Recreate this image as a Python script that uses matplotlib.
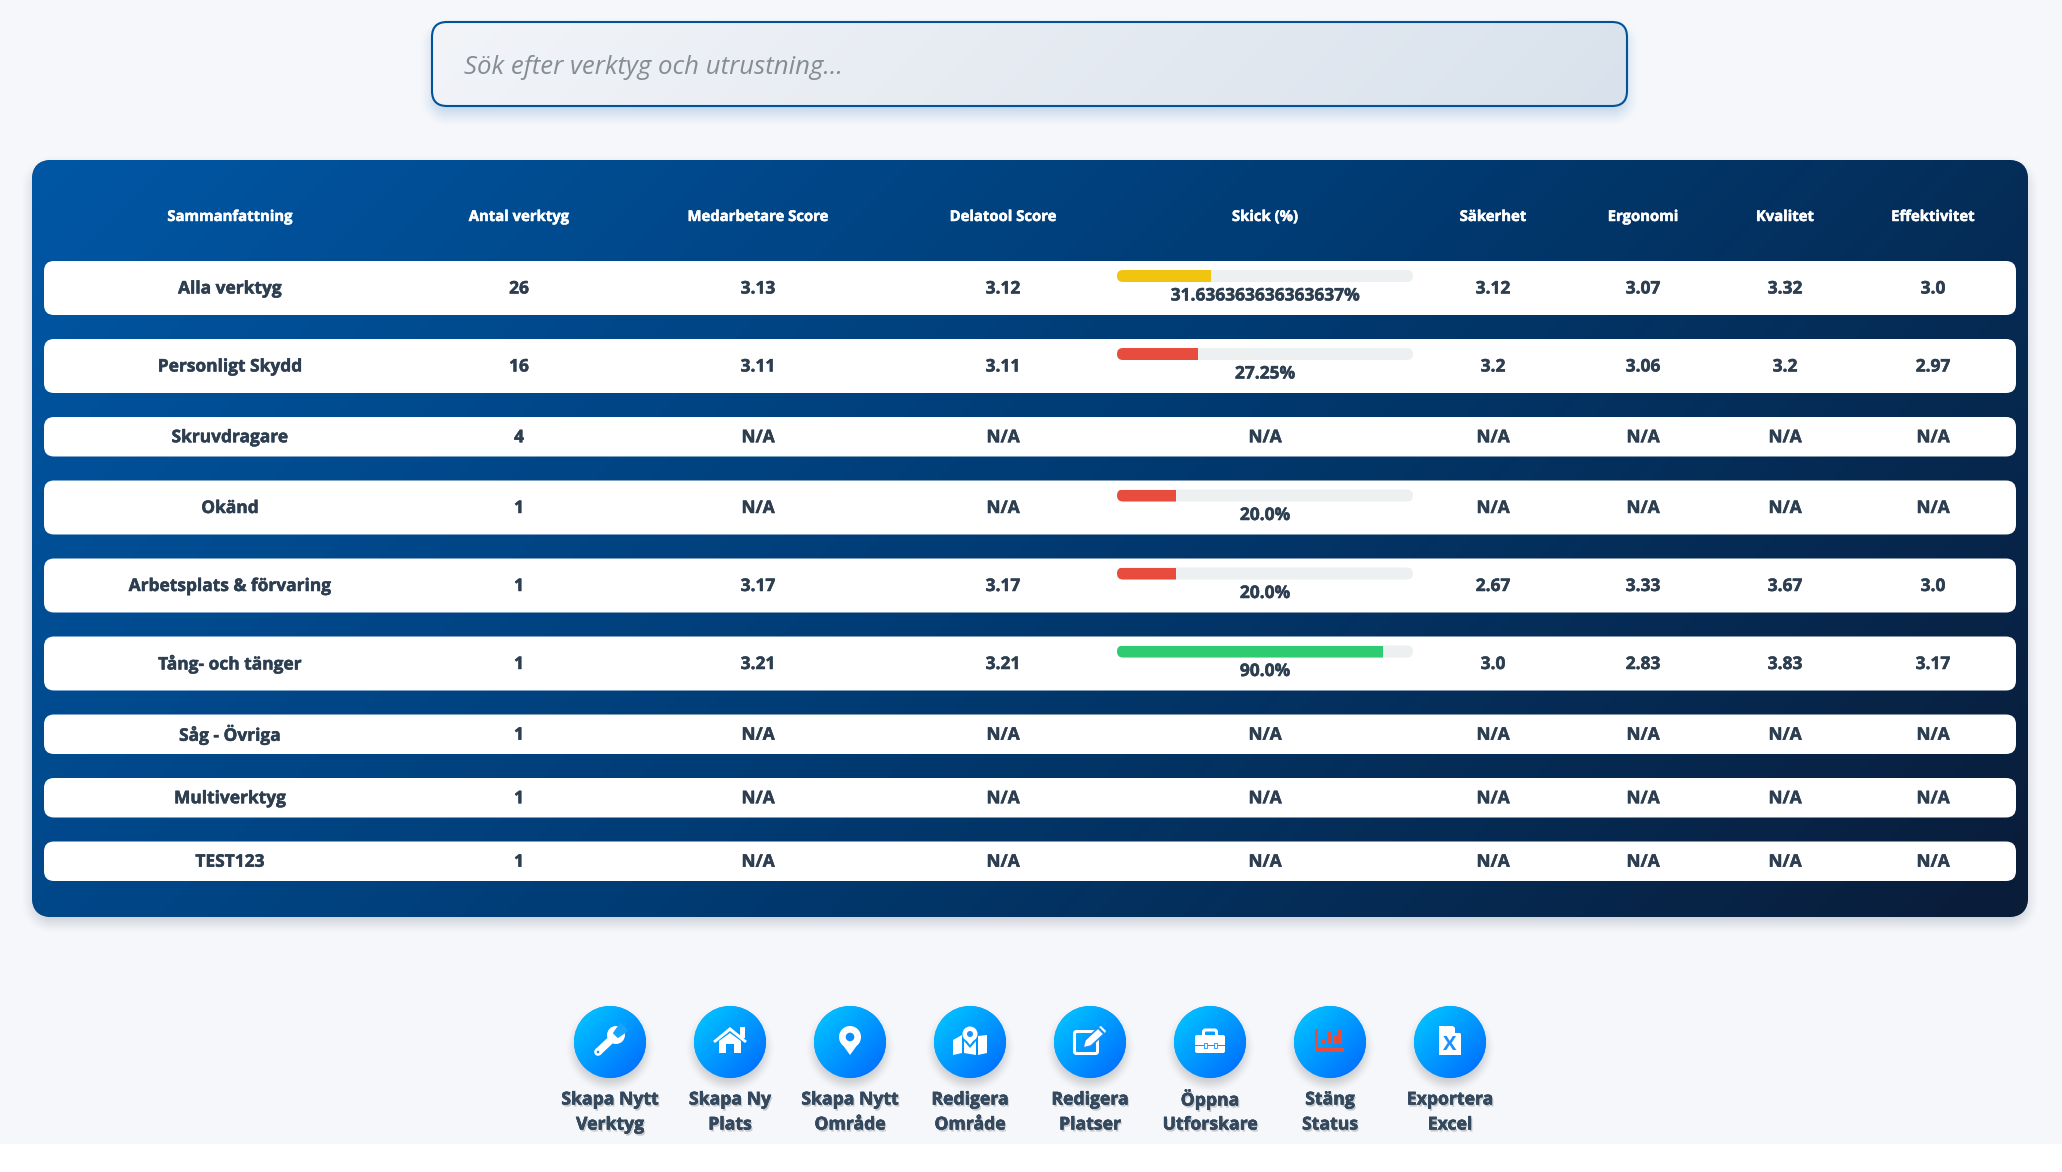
#!/usr/bin/env python3
"""Tool overview dashboard: search box, summary table and action buttons."""

import matplotlib
matplotlib.use("Agg")
import matplotlib.patheffects as pe
import matplotlib.pyplot as plt
import numpy as np
from matplotlib.colors import LinearSegmentedColormap
from matplotlib.patches import Circle, FancyBboxPatch, Polygon, Rectangle

WIDTH, HEIGHT = 2062, 1172
FONT = "Open Sans"

COLUMNS = ["Sammanfattning", "Antal verktyg", "Medarbetare Score", "Delatool Score", "Skick (%)",
           "Säkerhet", "Ergonomi", "Kvalitet", "Effektivitet"]
CATEGORIES = ["Alla verktyg", "Personligt Skydd", "Skruvdragare", "Okänd", "Arbetsplats & förvaring",
              "Tång- och tänger", "Såg - Övriga", "Multiverktyg", "TEST123"]
TOOL_COUNT = [26, 16, 4, 1, 1, 1, 1, 1, 1]
MEDARBETARE = ["3.13", "3.11", "N/A", "N/A", "3.17", "3.21", "N/A", "N/A", "N/A"]
DELATOOL = ["3.12", "3.11", "N/A", "N/A", "3.17", "3.21", "N/A", "N/A", "N/A"]
SKICK = [31.636363636363637, 27.25, None, 20.0, 20.0, 90.0, None, None, None]
SAKERHET = ["3.12", "3.2", "N/A", "N/A", "2.67", "3.0", "N/A", "N/A", "N/A"]
ERGONOMI = ["3.07", "3.06", "N/A", "N/A", "3.33", "2.83", "N/A", "N/A", "N/A"]
KVALITET = ["3.32", "3.2", "N/A", "N/A", "3.67", "3.83", "N/A", "N/A", "N/A"]
EFFEKTIVITET = ["3.0", "2.97", "N/A", "N/A", "3.0", "3.17", "N/A", "N/A", "N/A"]
BUTTONS = [("Skapa Nytt", "Verktyg"), ("Skapa Ny", "Plats"), ("Skapa Nytt", "Område"), ("Redigera", "Område"),
           ("Redigera", "Platser"), ("Öppna", "Utforskare"), ("Stäng", "Status"), ("Exportera", "Excel")]

COL_X = [230, 519, 758, 1003, 1265, 1493, 1643, 1785, 1933]
TEXT_DARK = "#2c3e50"
ICON_BG = "#1a90ff"


def rounded_box(x0, y0, x1, y1, radius, **kwargs):
    return FancyBboxPatch((x0 + radius, y0 + radius), x1 - x0 - 2 * radius, y1 - y0 - 2 * radius,
                          boxstyle=f"round,pad={radius},rounding_size={radius}", **kwargs)


def css_gradient(ax, box, colors, clip):
    """Paint a 135 degree gradient over box and clip it to a patch."""
    x0, y0, x1, y1 = box
    xx, yy = np.meshgrid(np.arange(x0, x1) + 0.5, np.arange(y0, y1) + 0.5)
    t = ((xx - (x0 + x1) / 2) + (yy - (y0 + y1) / 2)) / ((x1 - x0) + (y1 - y0)) + 0.5
    cmap = LinearSegmentedColormap.from_list("grad", colors)
    img = ax.imshow(t, extent=(x0, x1, y1, y0), cmap=cmap, vmin=0, vmax=1, aspect="auto",
                    interpolation="bilinear", zorder=clip.get_zorder())
    img.set_clip_path(clip)


def soft_shadow(ax, box, radius, blur, offset, color, alpha, zorder=1):
    """Blurred shadow of a rounded rectangle, from its signed distance."""
    x0, y0, x1, y1 = box
    y0, y1 = y0 + offset, y1 + offset
    pad = int(blur * 2)
    xs = np.arange(x0 - pad, x1 + pad) + 0.5
    ys = np.arange(y0 - pad, y1 + pad) + 0.5
    xx, yy = np.meshgrid(xs, ys)
    qx = np.abs(xx - (x0 + x1) / 2) - (x1 - x0) / 2 + radius
    qy = np.abs(yy - (y0 + y1) / 2) - (y1 - y0) / 2 + radius
    dist = np.hypot(np.maximum(qx, 0), np.maximum(qy, 0)) + np.minimum(np.maximum(qx, qy), 0) - radius
    t = np.clip(0.5 - dist / (2 * blur), 0, 1)
    rgba = np.zeros(dist.shape + (4,))
    rgba[..., :3] = matplotlib.colors.to_rgb(color)
    rgba[..., 3] = alpha * t * t * (3 - 2 * t)
    ax.imshow(rgba, extent=(xs[0] - 0.5, xs[-1] + 0.5, ys[-1] + 0.5, ys[0] - 0.5), aspect="auto", zorder=zorder)


def draw_wrench(ax, cx, cy):
    direction = np.array([1.0, -1.0]) / np.sqrt(2)
    normal = np.array([1.0, 1.0]) / np.sqrt(2)
    tip = np.array([cx - 12, cy + 10])
    head = np.array([cx + 6, cy - 7])
    handle = [tip + normal * 3.8, head + normal * 3.8, head - normal * 3.8, tip - normal * 3.8]
    ax.add_patch(Polygon(handle, fc="white", ec="none", zorder=6))
    ax.add_patch(Circle(tip, 3.8, fc="white", ec="none", zorder=6))
    ax.add_patch(Circle(tip, 1.3, fc=ICON_BG, ec="none", zorder=7))
    ax.add_patch(Circle(head, 9, fc="white", ec="none", zorder=6))
    jaw = [head + normal * 3.5 - direction * 1, head + direction * 12 + normal * 6,
           head + direction * 12 - normal * 6, head - normal * 3.5 - direction * 1]
    ax.add_patch(Polygon(jaw, fc="#16a4ff", ec="none", zorder=7))


def draw_house(ax, cx, cy):
    ax.add_patch(Rectangle((cx + 10, cy - 15), 4.5, 11, fc="white", ec="none", zorder=6))
    ax.add_patch(Polygon([(cx - 17, cy - 1), (cx, cy - 15), (cx + 17, cy - 1), (cx + 15, cy + 1),
                          (cx, cy - 11), (cx - 15, cy + 1)], fc="white", ec="none", zorder=6))
    ax.add_patch(Polygon([(cx - 11, cy - 1), (cx, cy - 9), (cx + 11, cy - 1), (cx + 11, cy + 11),
                          (cx + 4, cy + 11), (cx + 4, cy + 2), (cx - 4, cy + 2), (cx - 4, cy + 11),
                          (cx - 11, cy + 11)], fc="white", ec="none", zorder=6))


def draw_pin(ax, cx, cy):
    r = 11
    top = cy - 5
    ax.add_patch(Polygon([(cx - r * 0.92, top + 4), (cx, cy + 13), (cx + r * 0.92, top + 4)],
                         fc="white", ec="none", zorder=6))
    ax.add_patch(Circle((cx, top), r, fc="white", ec="none", zorder=6))
    ax.add_patch(Circle((cx, top), 4.3, fc="#0b8dff", ec="none", zorder=7))


def draw_map(ax, cx, cy):
    ax.add_patch(Polygon([(cx - 17, cy - 2), (cx - 8, cy - 7), (cx - 8, cy + 11), (cx - 17, cy + 13)],
                         fc="white", ec="none", zorder=6))
    ax.add_patch(Polygon([(cx - 6, cy - 1), (cx, cy + 6), (cx + 6, cy - 1), (cx + 6, cy + 13), (cx - 6, cy + 11)],
                         fc="white", ec="none", zorder=6))
    ax.add_patch(Polygon([(cx + 8, cy - 6), (cx + 17, cy - 7), (cx + 17, cy + 11), (cx + 8, cy + 13)],
                         fc="white", ec="none", zorder=6))
    ax.add_patch(Polygon([(cx - 7, cy - 6), (cx, cy + 3), (cx + 7, cy - 6)], fc="white", ec="none", zorder=7))
    ax.add_patch(Circle((cx, cy - 8), 7.5, fc="white", ec="none", zorder=7))
    ax.add_patch(Circle((cx, cy - 8), 3, fc=ICON_BG, ec="none", zorder=8))


def draw_edit(ax, cx, cy):
    ax.add_patch(rounded_box(cx - 15.5, cy - 10.5, cx + 7.5, cy + 11.5, 2, fc="none", ec="white", lw=2.2, zorder=6))
    ax.add_patch(Polygon([(cx - 7, cy + 6), (cx - 5, cy - 2), (cx + 8, cy - 14), (cx + 14, cy - 8), (cx + 1, cy + 4)],
                         fc="white", ec=ICON_BG, lw=1.2, zorder=7))
    ax.add_patch(Polygon([(cx + 9, cy - 15), (cx + 11, cy - 16), (cx + 16, cy - 11), (cx + 15, cy - 9)],
                         fc="white", ec="none", zorder=7))


def draw_toolbox(ax, cx, cy):
    ax.add_patch(rounded_box(cx - 6.5, cy - 12, cx + 6.5, cy - 3, 2, fc="none", ec="white", lw=2.2, zorder=6))
    ax.add_patch(rounded_box(cx - 15, cy - 7, cx + 15, cy + 11, 2, fc="white", ec="none", zorder=7))
    ax.add_patch(Rectangle((cx - 15, cy + 2.5), 30, 1.2, fc=ICON_BG, ec="none", zorder=8))
    for dx in (-5, 5):
        ax.add_patch(Rectangle((cx + dx - 1.5, cy + 0.5), 3, 5, fc="white", ec=ICON_BG, lw=0.6, zorder=9))


def draw_chart(ax, cx, cy):
    red = "#e74c3c"
    ax.add_patch(Rectangle((cx - 15, cy - 13), 3, 22, fc=red, ec="none", zorder=6))
    ax.add_patch(Rectangle((cx - 15, cy + 6), 29, 3.5, fc=red, ec="none", zorder=6))
    for dx, top in zip((-8, -2, 3, 8), (-3, -10, -7, -13)):
        ax.add_patch(Rectangle((cx + dx, cy + top), 4, 2 - top, fc=red, ec="none", zorder=6))


def draw_excel(ax, cx, cy):
    ax.add_patch(Polygon([(cx - 11, cy - 16), (cx + 3, cy - 16), (cx + 11, cy - 8), (cx + 11, cy + 13), (cx - 11, cy + 13)],
                         fc="white", ec="none", zorder=6))
    ax.add_patch(Polygon([(cx + 4.5, cy - 16), (cx + 4.5, cy - 9.5), (cx + 11, cy - 9.5)], fc=ICON_BG, ec="none", zorder=7))
    ax.text(cx, cy + 3, "X", ha="center", va="center", fontsize=14.5, fontweight="bold", color=ICON_BG,
            family=FONT, zorder=8)


ICONS = [draw_wrench, draw_house, draw_pin, draw_map, draw_edit, draw_toolbox, draw_chart, draw_excel]


def bar_colour(value):
    if value >= 70:
        return "#2ecc71"
    if value >= 30:
        return "#f1c40f"
    return "#e74c3c"


def bold_text(ax, x, y, label, size, color, zorder=5, effects=None):
    thicken = pe.withStroke(linewidth=0.35, foreground=color)
    ax.text(x, y, label, ha="center", va="center", fontsize=size, fontweight="bold", color=color,
            family=FONT, zorder=zorder, path_effects=(effects or []) + [thicken])


def main():
    fig = plt.figure(figsize=(WIDTH / 100, HEIGHT / 100), dpi=100, facecolor="white")
    ax = fig.add_axes([0, 0, 1, 1])
    ax.set_xlim(0, WIDTH)
    ax.set_ylim(HEIGHT, 0)
    ax.axis("off")

    ax.add_patch(Rectangle((0, 0), WIDTH, 1144, fc="#f5f7fb", ec="none", zorder=0))

    # search box
    soft_shadow(ax, (432, 22, 1627, 106), 15, 14, 8, "#0056a3", 0.22)
    search = rounded_box(432, 22, 1627, 106, 15, fc="#e8edf4", ec="none", zorder=2)
    ax.add_patch(search)
    css_gradient(ax, (432, 22, 1627, 106), ["#f2f4f8", "#d9e2ec"], search)
    ax.add_patch(rounded_box(432, 22, 1627, 106, 15, fc="none", ec="#00529b", lw=1.5, zorder=3))
    ax.text(464, 67, "Sök efter verktyg och utrustning...", ha="left", va="center", fontsize=18.5,
            style="italic", color="#868c94", family=FONT, zorder=4)

    # panel
    soft_shadow(ax, (32, 160, 2028, 917), 20, 12, 6, "#303a50", 0.22)
    panel = rounded_box(32, 160, 2028, 917, 20, fc="#003a70", ec="none", zorder=2)
    ax.add_patch(panel)
    css_gradient(ax, (32, 160, 2028, 917), ["#0057a5", "#003b73", "#0a1c38"], panel)

    for x, name in zip(COL_X, COLUMNS):
        bold_text(ax, x, 217, name, 10.7, "white", zorder=4)

    # rows
    y = 261
    columns = [CATEGORIES, TOOL_COUNT, MEDARBETARE, DELATOOL, None, SAKERHET, ERGONOMI, KVALITET, EFFEKTIVITET]
    for i in range(len(CATEGORIES)):
        has_bar = SKICK[i] is not None
        height = 54 if has_bar else 39.5
        ax.add_patch(rounded_box(44, y, 2016, y + height, 10, fc="white", ec="none", zorder=3))
        mid = y + height / 2
        for j, col in enumerate(columns):
            if col is None:
                continue
            bold_text(ax, COL_X[j], mid + 0.5, str(col[i]), 12.5, TEXT_DARK)
        if has_bar:
            ax.add_patch(rounded_box(1117, y + 9, 1413, y + 21, 6, fc="#ecf0f1", ec="none", zorder=4))
            clip = rounded_box(1117, y + 9, 1413, y + 21, 6, fc="none", ec="none", zorder=4)
            ax.add_patch(clip)
            fill = Rectangle((1117, y + 9), 296 * SKICK[i] / 100, 12, fc=bar_colour(SKICK[i]), ec="none", zorder=5)
            ax.add_patch(fill)
            fill.set_clip_path(clip)
            bold_text(ax, COL_X[4], y + 34.5, f"{SKICK[i]}%", 12.5, TEXT_DARK)
        else:
            bold_text(ax, COL_X[4], mid + 0.5, "N/A", 12.5, TEXT_DARK)
        y += height + 24

    # action buttons
    shadow = [pe.withSimplePatchShadow(offset=(1, -1.5), alpha=0.18, shadow_rgbFace="#000000")]
    for k, ((line1, line2), icon) in enumerate(zip(BUTTONS, ICONS)):
        cx, cy = 610 + 120 * k, 1042
        soft_shadow(ax, (cx - 36, cy - 36, cx + 36, cy + 36), 36, 10, 6, "#000000", 0.2)
        disc = Circle((cx, cy), 36, fc="#0a8cff", ec="none", zorder=4)
        ax.add_patch(disc)
        css_gradient(ax, (cx - 36, cy - 36, cx + 36, cy + 36), ["#00ccff", "#0066ff"], disc)
        icon(ax, cx, cy)
        bold_text(ax, cx, 1099.5, line1, 12.7, "#34495e", effects=shadow)
        bold_text(ax, cx, 1124.5, line2, 12.7, "#34495e", effects=shadow)

    fig.savefig("out.png", dpi=100, facecolor="white")
    plt.close(fig)


if __name__ == "__main__":
    main()
